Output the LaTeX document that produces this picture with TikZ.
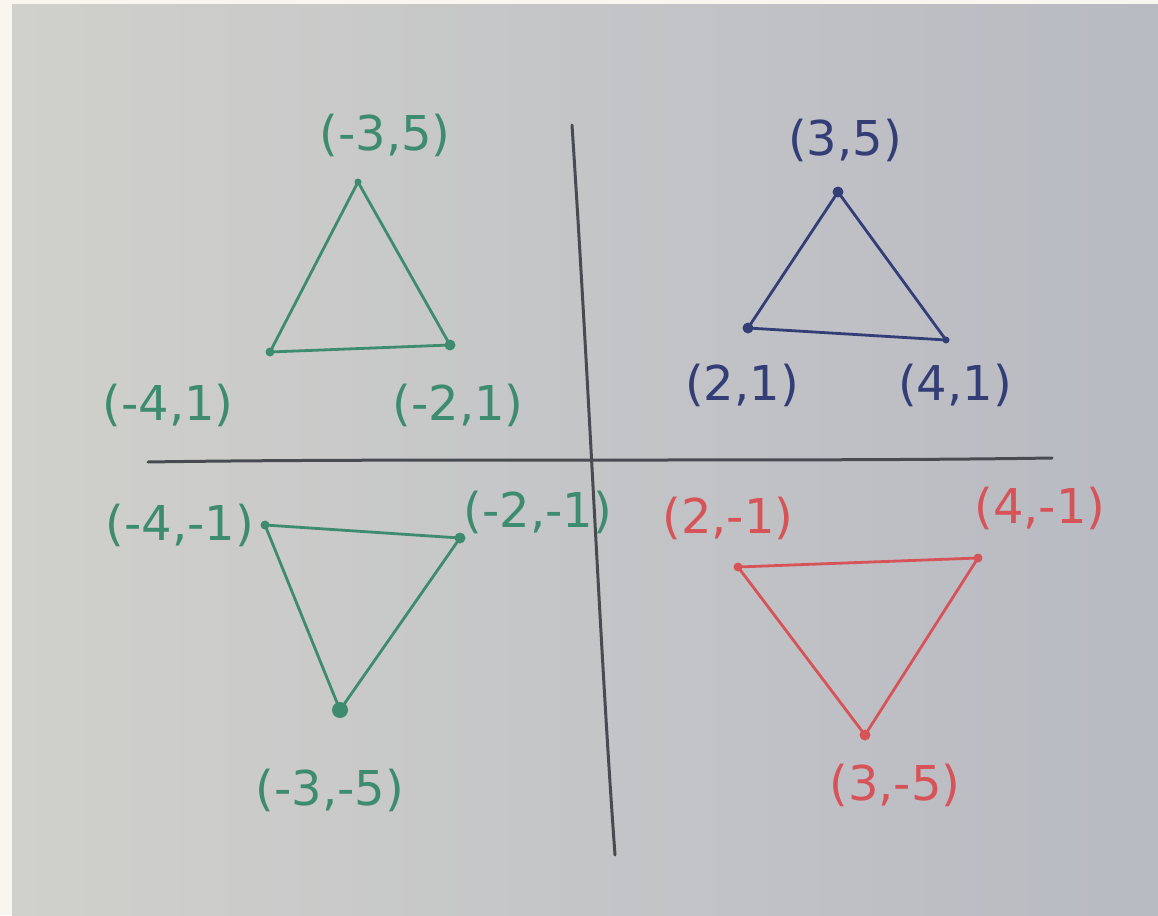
\documentclass[tikz,border=0pt]{standalone}
\usepackage{fontspec}
\setmainfont{DejaVu Sans}
\begin{document}
\begin{tikzpicture}[x=1pt,y=-1pt,
  dot/.style={circle,fill,inner sep=0pt,minimum size=9pt},
  lbl/.style={font=\fontsize{48}{54}\selectfont,inner sep=0pt},
  edge/.style={line width=2.8pt,line join=round,line cap=round}]
\definecolor{paperA}{RGB}{208,208,204}
\definecolor{paperB}{RGB}{184,186,194}
\definecolor{cream}{RGB}{248,246,238}
\definecolor{gr}{RGB}{62,140,112}
\definecolor{bl}{RGB}{52,62,118}
\definecolor{rd}{RGB}{214,84,88}
\definecolor{ax}{RGB}{72,76,82}
\useasboundingbox (0,0) rectangle (1158,915);
\fill[cream] (0,0) rectangle (1158,915);
\shade[left color=paperA,right color=paperB] (12,5) rectangle (1158,915);
% axes
\coordinate (xl) at (148,462);
\coordinate (xr) at (1052,458);
\coordinate (yt) at (572,125);
\coordinate (yb) at (615,855);
\draw[ax,line width=3pt,line cap=round] (xl) .. controls (400,458) and (800,462) .. (xr);
\draw[ax,line width=3pt,line cap=round] (yt) .. controls (590,400) and (600,650) .. (yb);
% top-left green
\node[dot,gr,minimum size=7pt] (a1) at (358,182) {};
\node[dot,gr] (a2) at (270,352) {};
\node[dot,gr,minimum size=11pt] (a3) at (450,345) {};
\draw[gr,edge] (a1.center) -- (a2.center) -- (a3.center) -- cycle;
\node[lbl,gr] (la1) at (385,135) {(-3,5)};
\node[lbl,gr] (la2) at (168,405) {(-4,1)};
\node[lbl,gr] (la3) at (458,405) {(-2,1)};
% top-right blue
\node[dot,bl,minimum size=11pt] (b1) at (838,192) {};
\node[dot,bl,minimum size=11pt] (b2) at (748,328) {};
\node[dot,bl,minimum size=7pt] (b3) at (946,340) {};
\draw[bl,edge] (b1.center) -- (b2.center) -- (b3.center) -- cycle;
\node[lbl,bl] (lb1) at (845,140) {(3,5)};
\node[lbl,bl] (lb2) at (742,385) {(2,1)};
\node[lbl,bl] (lb3) at (955,385) {(4,1)};
% bottom-left green
\node[dot,gr] (c1) at (265,525) {};
\node[dot,gr,minimum size=11pt] (c2) at (460,538) {};
\node[dot,gr,minimum size=16pt] (c3) at (340,710) {};
\draw[gr,edge] (c1.center) -- (c2.center) -- (c3.center) -- cycle;
\node[lbl,gr] (lc1) at (180,525) {(-4,-1)};
\node[lbl,gr] (lc2) at (538,512) {(-2,-1)};
\node[lbl,gr] (lc3) at (330,790) {(-3,-5)};
% bottom-right red
\node[dot,rd] (d1) at (738,567) {};
\node[dot,rd] (d2) at (978,558) {};
\node[dot,rd,minimum size=11pt] (d3) at (865,735) {};
\draw[rd,edge] (d1.center) -- (d2.center) -- (d3.center) -- cycle;
\node[lbl,rd] (ld1) at (728,518) {(2,-1)};
\node[lbl,rd] (ld2) at (1040,508) {(4,-1)};
\node[lbl,rd] (ld3) at (895,785) {(3,-5)};
\end{tikzpicture}
\end{document}
